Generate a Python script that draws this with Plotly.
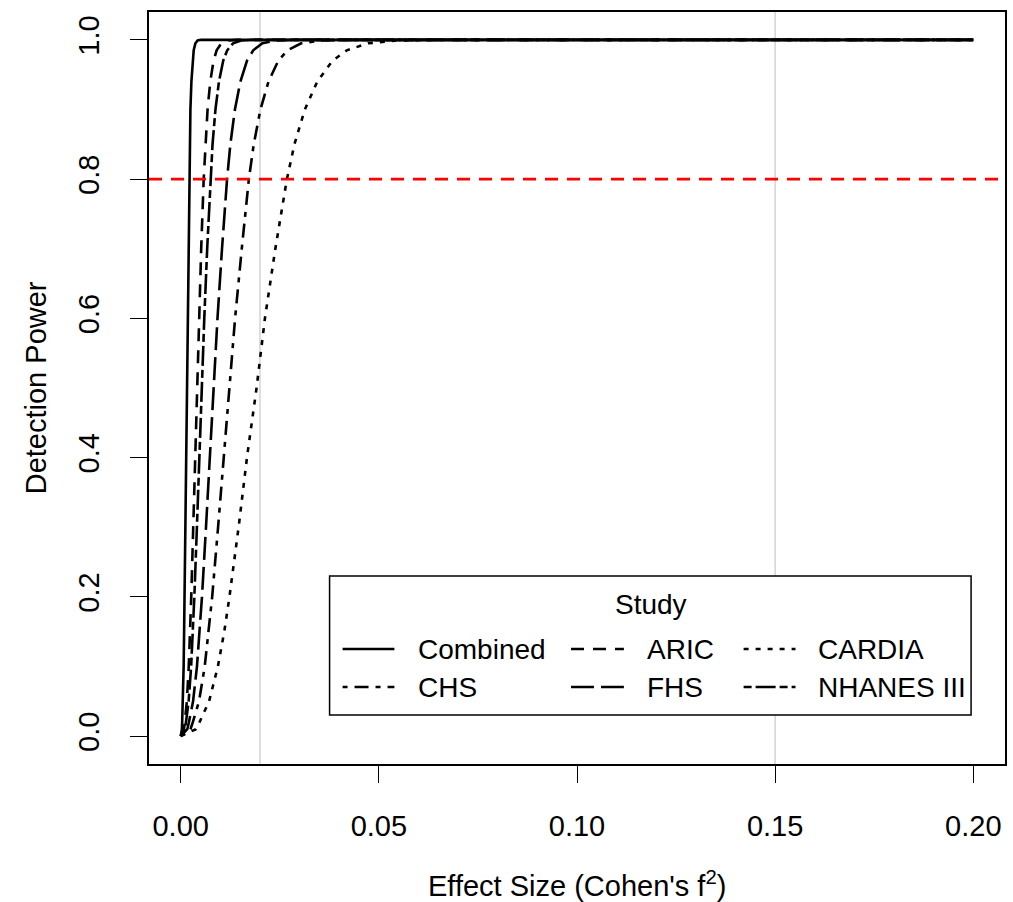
import plotly.graph_objects as go

# ---------------- data ----------------
POWER = [0, 0.01, 0.02, 0.05, 0.10, 0.15, 0.20, 0.30, 0.40, 0.50, 0.60, 0.70,
         0.80, 0.85, 0.90, 0.94, 0.97, 0.985, 0.995, 0.999, 1.0, 1.0]

F_COMBINED = [0, 0.0003, 0.00037, 0.00056, 0.00074, 0.00086, 0.00096, 0.00114, 0.00131,
              0.0015, 0.00167, 0.00187, 0.0021, 0.00225, 0.00245, 0.0027, 0.003,
              0.00328, 0.0037, 0.00426, 0.00513, 0.2]
F_ARIC = [0, 0.00083, 0.00103, 0.00155, 0.00203, 0.00238, 0.00266, 0.00316, 0.00362,
          0.00414, 0.0046, 0.00517, 0.0058, 0.00621, 0.00678, 0.00746, 0.00829,
          0.00907, 0.01023, 0.01177, 0.01418, 0.2]
F_NHANES = [0, 0.00107, 0.00133, 0.002, 0.00263, 0.00308, 0.00344, 0.00409, 0.00468,
            0.00536, 0.00595, 0.00668, 0.0075, 0.00803, 0.00877, 0.00965, 0.01072,
            0.01173, 0.01322, 0.01523, 0.01833, 0.2]
F_FHS = [0, 0.00167, 0.00207, 0.00312, 0.0041, 0.0048, 0.00537, 0.00638, 0.0073,
         0.00835, 0.00928, 0.01042, 0.0117, 0.01253, 0.01368, 0.01505, 0.01672,
         0.0183, 0.02063, 0.02375, 0.0286, 0.2]
F_CHS = [0, 0.00247, 0.00306, 0.00462, 0.00606, 0.00709, 0.00794, 0.00943, 0.0108,
         0.01235, 0.01372, 0.01541, 0.0172, 0.01843, 0.02012, 0.02215, 0.02462,
         0.02696, 0.0304, 0.03502, 0.04218, 0.2]
F_CARDIA = [0, 0.00383, 0.00474, 0.00716, 0.00938, 0.01099, 0.0123, 0.01461, 0.01672,
            0.01914, 0.02125, 0.02388, 0.0268, 0.0287, 0.03133, 0.03446, 0.0383,
            0.04192, 0.04725, 0.0544, 0.0655, 0.2]

STUDIES = ["Combined", "ARIC", "CARDIA", "CHS", "FHS", "NHANES III"]
STUDY_F = {"Combined": F_COMBINED, "ARIC": F_ARIC, "CARDIA": F_CARDIA,
           "CHS": F_CHS, "FHS": F_FHS, "NHANES III": F_NHANES}

X_TICKS = [0.0, 0.05, 0.10, 0.15, 0.20]
X_TICK_LABELS = ["0.00", "0.05", "0.10", "0.15", "0.20"]
Y_TICKS = [0.0, 0.2, 0.4, 0.6, 0.8, 1.0]
Y_TICK_LABELS = ["0.0", "0.2", "0.4", "0.6", "0.8", "1.0"]
POWER_THRESHOLD = 0.8
REFERENCE_EFFECTS = [0.02, 0.15]

# ---------------- styles ----------------
DASHES = {
    "Combined": "solid",
    "ARIC": "13px,9px",
    "CARDIA": "5px,7px",
    "CHS": "5px,7px,14px,7px",
    "FHS": "23px,7px",
    "NHANES III": "8px,4px,20px,4px",
}
FONT = "Liberation Sans, Arial, Helvetica, sans-serif"
AXIS_FS = 29
LEG_FS = 28
LW = 2.6

W, H = 1013, 902
ML, MR, MT, MB = 149, 6, 12, 138
PW, PH = W - ML - MR, H - MT - MB


def px_x(px):
    return (px - ML) / PW


def px_y(py):
    return (H - MB - py) / PH


fig = go.Figure()

for name in STUDIES:
    fig.add_trace(go.Scatter(
        x=STUDY_F[name], y=POWER, mode="lines", name=name,
        line=dict(color="black", width=LW, dash=DASHES[name]),
        showlegend=False, hoverinfo="x+y+name",
    ))

shapes = []
for xv in REFERENCE_EFFECTS:
    shapes.append(dict(type="line", xref="x", yref="paper", x0=xv, x1=xv, y0=0, y1=1,
                       line=dict(color="#d3d3d3", width=1.5), layer="below"))
shapes.append(dict(type="line", xref="paper", yref="y", x0=0, x1=1,
                   y0=POWER_THRESHOLD, y1=POWER_THRESHOLD,
                   line=dict(color="#ff0000", width=LW, dash="13px,9px"), layer="above"))

# legend box (drawn like R's legend)
shapes.append(dict(type="rect", xref="paper", yref="paper",
                   x0=px_x(330), x1=px_x(973), y0=px_y(715), y1=px_y(576),
                   fillcolor="white", line=dict(color="black", width=1.5), layer="above"))

annotations = []
annotations.append(dict(text="Study", xref="paper", yref="paper", x=px_x(652), y=px_y(604),
                        xanchor="center", yanchor="middle", showarrow=False,
                        font=dict(size=LEG_FS, family=FONT, color="black")))

LEGEND_ORDER = ["Combined", "CHS", "ARIC", "FHS", "CARDIA", "NHANES III"]  # column-major
COL_LINE_X = [(343, 395), (572, 625), (745, 797)]
COL_TEXT_X = [417, 646, 818]
ROW_Y = [649, 687]
for i, name in enumerate(LEGEND_ORDER):
    c, r = divmod(i, 2)
    x0, x1 = COL_LINE_X[c]
    shapes.append(dict(type="line", xref="paper", yref="paper",
                       x0=px_x(x0), x1=px_x(x1), y0=px_y(ROW_Y[r]), y1=px_y(ROW_Y[r]),
                       line=dict(color="black", width=LW, dash=DASHES[name]), layer="above"))
    annotations.append(dict(text=name, xref="paper", yref="paper",
                            x=px_x(COL_TEXT_X[c]), y=px_y(ROW_Y[r]),
                            xanchor="left", yanchor="middle", showarrow=False,
                            font=dict(size=LEG_FS, family=FONT, color="black")))

# axis titles
annotations.append(dict(text="Effect Size (Cohen's f<sup>2</sup>)", xref="paper", yref="paper",
                        x=0.5, y=px_y(884), xanchor="center", yanchor="middle",
                        showarrow=False, font=dict(size=AXIS_FS, family=FONT, color="black")))
annotations.append(dict(text="Detection Power", xref="paper", yref="paper",
                        x=px_x(36), y=0.5, xanchor="center", yanchor="middle",
                        textangle=-90, showarrow=False,
                        font=dict(size=AXIS_FS, family=FONT, color="black")))

fig.update_layout(
    width=W, height=H,
    margin=dict(l=ML, r=MR, t=MT, b=MB, pad=0),
    paper_bgcolor="white", plot_bgcolor="white",
    font=dict(family=FONT, size=AXIS_FS, color="black"),
    shapes=shapes, annotations=annotations,
    showlegend=False,
)
fig.update_xaxes(
    range=[-0.008, 0.208], tickvals=X_TICKS, ticktext=X_TICK_LABELS,
    tickfont=dict(size=AXIS_FS, family=FONT, color="black"),
    showgrid=False, zeroline=False, showline=True, mirror=True,
    linecolor="black", linewidth=1.5,
    ticks="outside", ticklen=17, tickwidth=1.3, tickcolor="black",
    ticklabelstandoff=18,
)
fig.update_yaxes(
    range=[-0.04, 1.04], tickvals=Y_TICKS, ticktext=Y_TICK_LABELS,
    tickfont=dict(size=AXIS_FS, family=FONT, color="black"),
    showgrid=False, zeroline=False, showline=True, mirror=True,
    linecolor="black", linewidth=1.5,
    ticks="outside", ticklen=17, tickwidth=1.3, tickcolor="black",
    tickangle=-90, ticklabelstandoff=20,
)

fig.write_html("out.html")
